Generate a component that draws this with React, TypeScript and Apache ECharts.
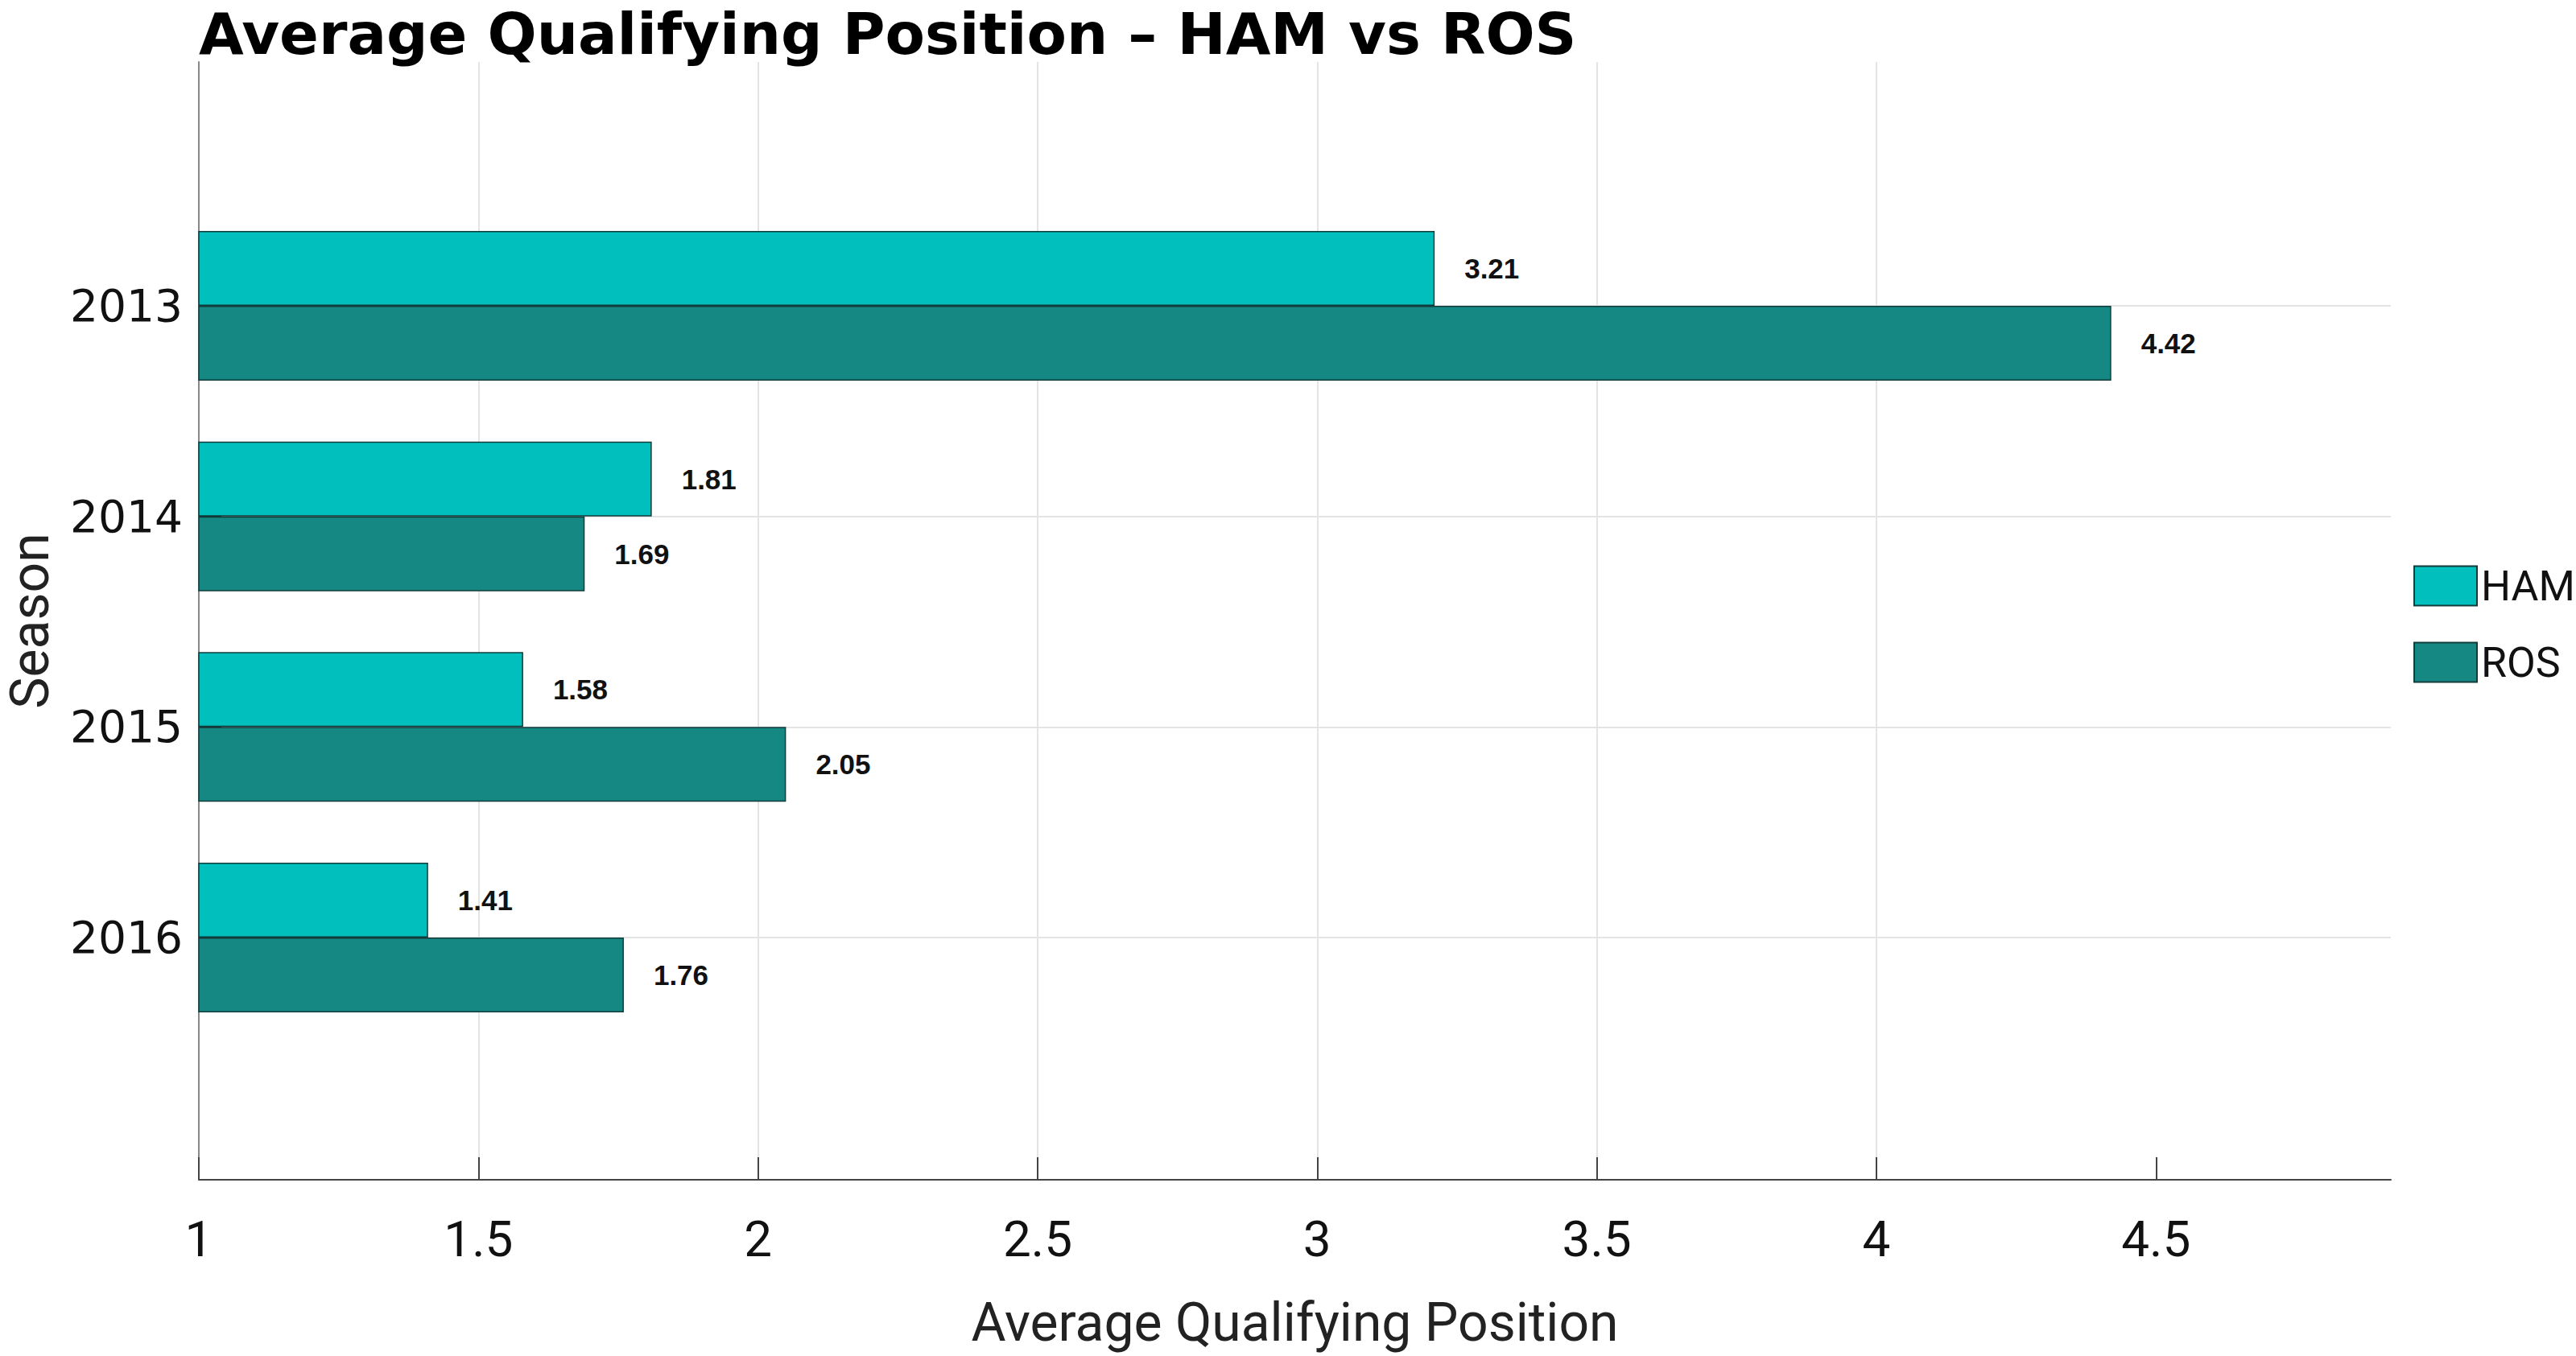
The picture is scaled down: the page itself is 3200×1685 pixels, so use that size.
import React, { useEffect, useRef } from "react";
import * as echarts from "echarts";

// Season averages of qualifying position
const seasons = ["2013", "2014", "2015", "2016"];
const hamAvg = [3.21, 1.81, 1.58, 1.41];
const rosAvg = [4.42, 1.69, 2.05, 1.76];
const xTicks = [1, 1.5, 2, 2.5, 3, 3.5, 4, 4.5];
const xMin = 1;
const xMax = 4.92;

const HAM_COLOR = "#00bfbd";
const ROS_COLOR = "#158884";
const EDGE_COLOR = "#123c3b";

export default function App() {
  const ref = useRef<HTMLDivElement>(null);

  useEffect(() => {
    if (!ref.current) return;
    const chart = echarts.init(ref.current, undefined, { renderer: "svg" });

    const label = {
      show: true,
      position: "right",
      distance: 37,
      color: "#111",
      fontFamily: "Liberation Sans",
      fontWeight: "bold",
      fontSize: 35,
      formatter: (p: any) => Number(p.value).toFixed(2),
    };

    chart.setOption({
      animation: false,
      backgroundColor: "#ffffff",
      title: {
        text: "Average Qualifying Position – HAM vs ROS",
        left: 247,
        top: 0,
        padding: 0,
        textStyle: {
          fontFamily: "DejaVu Sans",
          fontWeight: "bold",
          fontSize: 72,
          lineHeight: 84,
          color: "#000",
        },
      },
      legend: {
        orient: "vertical",
        left: 2998,
        top: 702,
        padding: 0,
        itemWidth: 78,
        itemHeight: 49,
        itemGap: 43,
        icon: "rect",
        textStyle: { fontFamily: "Roboto", fontSize: 52, color: "#111" },
        data: ["HAM", "ROS"],
      },
      grid: [
        // full plot frame with the value axis
        { left: 247, right: 230, top: 77, bottom: 219, outerBoundsMode: "none" },
        // band holding the season rows
        { left: 247, right: 230, top: 380, bottom: 520, outerBoundsMode: "none" },
      ],
      xAxis: [
        {
          gridIndex: 0,
          type: "value",
          min: xMin,
          max: xMax,
          interval: 0.5,
          name: "Average Qualifying Position",
          nameLocation: "middle",
          nameGap: 144,
          nameTextStyle: { fontFamily: "Roboto", fontSize: 66, color: "#222" },
          axisLine: { show: true, lineStyle: { color: "#444", width: 2 } },
          axisTick: {
            show: true,
            inside: true,
            length: 28,
            customValues: xTicks,
            lineStyle: { color: "#444", width: 2 },
          },
          axisLabel: {
            customValues: xTicks,
            margin: 42,
            fontFamily: "Roboto",
            fontSize: 62,
            color: "#111",
            formatter: (v: number) => String(v),
          },
          splitLine: {
            show: true,
            showMaxLine: false,
            lineStyle: { color: "#e4e4e4", width: 2 },
          },
        },
        {
          gridIndex: 1,
          type: "value",
          min: xMin,
          max: xMax,
          show: false,
          splitLine: { show: false },
        },
      ],
      yAxis: [
        {
          gridIndex: 0,
          type: "value",
          min: 0,
          max: 1,
          name: "Season",
          nameLocation: "middle",
          nameGap: 180,
          nameRotate: 90,
          nameTextStyle: { fontFamily: "Roboto", fontSize: 66, lineHeight: 60, color: "#222" },
          axisLine: { show: true, lineStyle: { color: "#888", width: 2 } },
          axisTick: { show: false },
          axisLabel: { show: false },
          splitLine: { show: false },
        },
        {
          gridIndex: 1,
          type: "category",
          data: seasons,
          inverse: true,
          boundaryGap: false,
          axisLine: { show: false },
          axisTick: {
            show: true,
            inside: true,
            length: 28,
            lineStyle: { color: "#222", width: 3 },
          },
          axisLabel: {
            margin: 20,
            fontFamily: "DejaVu Sans",
            fontSize: 55,
            color: "#111",
          },
          splitLine: { show: true, lineStyle: { color: "#e4e4e4", width: 2 } },
        },
      ],
      series: [
        {
          name: "HAM",
          type: "bar",
          xAxisIndex: 1,
          yAxisIndex: 1,
          data: hamAvg,
          barWidth: 93,
          barGap: "0%",
          itemStyle: { color: HAM_COLOR, borderColor: EDGE_COLOR, borderWidth: 1.5 },
          label,
        },
        {
          name: "ROS",
          type: "bar",
          xAxisIndex: 1,
          yAxisIndex: 1,
          data: rosAvg,
          barWidth: 93,
          barGap: "0%",
          itemStyle: { color: ROS_COLOR, borderColor: EDGE_COLOR, borderWidth: 1.5 },
          label,
        },
      ],
    });

    return () => chart.dispose();
  }, []);

  return (
    <div
      ref={ref}
      style={{ position: "fixed", left: 0, top: 0, width: 3200, height: 1685, background: "#fff" }}
    />
  );
}
